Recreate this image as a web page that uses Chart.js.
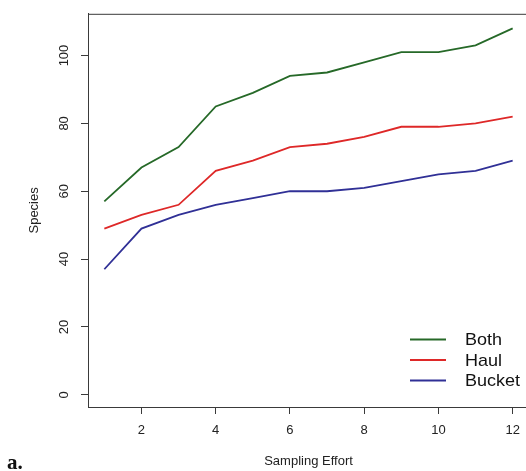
<!DOCTYPE html>
<html>
<head>
<meta charset="utf-8">
<script src="https://cdn.jsdelivr.net/npm/chart.js@4.4.1/dist/chart.umd.min.js"></script>
<style>
	body { margin: 0; background: #fff; }
	#wrap { width: 526px; height: 471px; overflow: hidden; position: relative; }
	canvas { position: absolute; left: 0; top: 0; }
</style>
</head>
<body>
<div id="wrap"><canvas id="lineChart" width="540" height="471"></canvas></div>
<script>
const effort = [1, 2, 3, 4, 5, 6, 7, 8, 9, 10, 11, 12];
const both = [57, 67, 73, 85, 89, 94, 95, 98, 101, 101, 103, 108];
const haul = [49, 53, 56, 66, 69, 73, 74, 76, 79, 79, 80, 82];
const bucket = [37, 49, 53, 56, 58, 60, 60, 61, 63, 65, 66, 69];
const seriesNames = ['Both', 'Haul', 'Bucket'];
const xTicks = [2, 4, 6, 8, 10, 12];
const yTicks = [0, 20, 40, 60, 80, 100];

const colors = ['rgb(38,105,40)', 'rgb(222,40,40)', 'rgb(48,48,150)'];
const axisColor = '#3a3a3a';
const font = 'Liberation Sans, Arial, sans-serif';

const toPoints = (values) => {
	const points = [];
	values.map((v, i) => {
		points.push({ x: effort[i], y: v });
	});
	return points;
};

// box round the plot, R style legend and panel letter
const extras = {
	id: 'extras',
	afterDraw(chart) {
		const ctx = chart.ctx;
		const a = chart.chartArea;
		ctx.save();
		ctx.strokeStyle = axisColor;
		ctx.lineWidth = 1;
		ctx.strokeRect(a.left + 0.5, a.top + 0.5, a.right - a.left, a.bottom - a.top);

		ctx.font = '17px ' + font;
		ctx.textBaseline = 'middle';
		ctx.textAlign = 'left';
		chart.data.datasets.map((ds, i) => {
			const y = 339.5 + i * 20.5;
			ctx.strokeStyle = ds.borderColor;
			ctx.lineWidth = 1.8;
			ctx.beginPath();
			ctx.moveTo(410, y);
			ctx.lineTo(446, y);
			ctx.stroke();
			ctx.fillStyle = '#111';
			ctx.save();
			ctx.translate(465, y + 1);
			ctx.scale(1.06, 1);
			ctx.fillText(ds.label, 0, 0);
			ctx.restore();
		});

		ctx.font = 'bold 21px Liberation Serif, Times New Roman, serif';
		ctx.fillStyle = '#111';
		ctx.textBaseline = 'alphabetic';
		ctx.fillText('a.', 7, 469);
		ctx.restore();
	},
};

const config = {
	type: 'line',
	data: {
		datasets: [both, haul, bucket].map((values, i) => ({
			label: seriesNames[i],
			data: toPoints(values),
			borderColor: colors[i],
			borderWidth: 1.8,
			pointRadius: 0,
			tension: 0,
			fill: false,
		})),
	},
	options: {
		responsive: false,
		animation: false,
		devicePixelRatio: 1,
		layout: { padding: { top: 12, right: 11, left: 0, bottom: 0 } },
		plugins: { legend: { display: false }, tooltip: { enabled: false } },
		scales: {
			x: {
				type: 'linear',
				min: 0.56,
				max: 12.44,
				afterBuildTicks: (s) => { s.ticks = xTicks.map((v) => ({ value: v })); },
				afterFit: (s) => { s.height = 64; },
				grid: { drawOnChartArea: false, drawTicks: true, tickLength: 7, color: axisColor },
				border: { display: true, color: axisColor },
				ticks: { color: '#222', font: { family: font, size: 13 }, padding: 9, maxRotation: 0 },
				title: { display: true, text: 'Sampling Effort', color: '#222', font: { family: font, size: 13 }, padding: { top: 0, bottom: 2 } },
			},
			y: {
				min: -3.6,
				max: 112.3,
				afterBuildTicks: (s) => { s.ticks = yTicks.map((v) => ({ value: v })); },
				afterFit: (s) => { s.width = 88; },
				grid: { drawOnChartArea: false, drawTicks: true, tickLength: 7, color: axisColor },
				border: { display: true, color: axisColor },
				ticks: { color: '#222', font: { family: font, size: 13 }, padding: 6, minRotation: 90, maxRotation: 90, crossAlign: 'center' },
				title: { display: true, text: 'Species', color: '#222', font: { family: font, size: 13 }, padding: { top: 27, bottom: 0 } },
			},
		},
	},
	plugins: [extras],
};

const ctx = document.getElementById('lineChart').getContext('2d');
const myChart = new Chart(ctx, config);
</script>
</body>
</html>
